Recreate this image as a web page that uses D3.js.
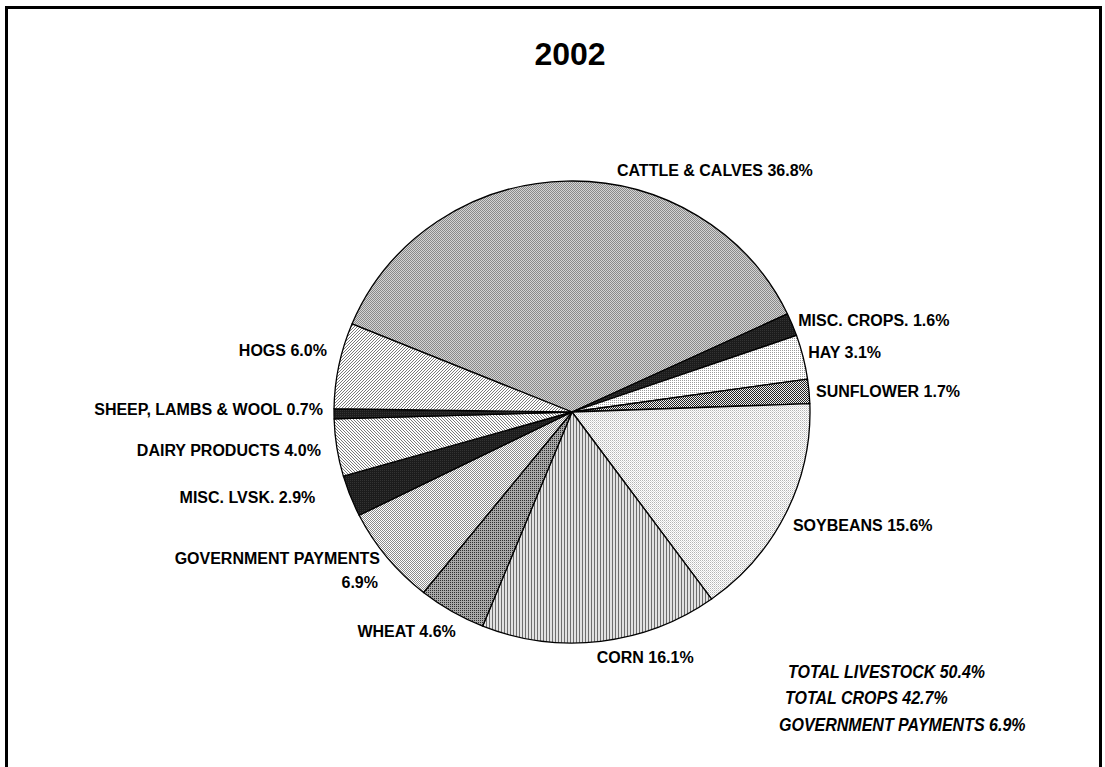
<!DOCTYPE html>
<html>
<head>
<meta charset="utf-8">
<script src="https://cdn.jsdelivr.net/npm/d3@7"></script>
<style>
  html, body { margin: 0; padding: 0; background: #fff; }
  svg { display: block; }
  text { font-family: "Liberation Sans", Arial, sans-serif; fill: #000; }
</style>
</head>
<body>
<svg id="chart" width="1105" height="767"></svg>
<script>
// ---- data ----
const title = "2002";
const categories = ["CATTLE & CALVES", "MISC. CROPS.", "HAY", "SUNFLOWER", "SOYBEANS", "CORN",
  "WHEAT", "GOVERNMENT PAYMENTS", "MISC. LVSK.", "DAIRY PRODUCTS", "SHEEP, LAMBS & WOOL", "HOGS"];
const shares = [36.8, 1.6, 3.1, 1.7, 15.6, 16.1, 4.6, 6.9, 2.9, 4.0, 0.7, 6.0];
const totalLines = ["TOTAL LIVESTOCK 50.4%", "TOTAL CROPS 42.7%", "GOVERNMENT PAYMENTS 6.9%"];

// ---- layout / style ----
const W = 1105, H = 767;
const cx = 572, cy = 412, rx = 238, ry = 231;
const startDeg = -67.6;
const fills = ["cattle", "dark", "hay", "sunflower", "soy", "corn", "wheat", "govt", "dark", "dairy", "dark", "hogs"];
// label nudges relative to the outer point of each slice's mid angle
const labelNudge = [
  {dx: 50.6, dy: -5, anchor: "start"},
  {dx: 6, dy: 1, anchor: "start"},
  {dx: 5, dy: 1, anchor: "start"},
  {dx: 7, dy: 6, anchor: "start"},
  {dx: 7, dy: 18, anchor: "start"},
  {dx: -4, dy: 22, anchor: "start"},
  {dx: 4, dy: 26, anchor: "end"},
  {dx: -7, dy: 6.5, anchor: "end", split: true},
  {dx: -35, dy: 7, anchor: "end"},
  {dx: -16, dy: 8, anchor: "end"},
  {dx: -11, dy: 1, anchor: "end"},
  {dx: -12, dy: -10, anchor: "end"}
];
const totalPos = [[788, 678], [785, 704], [779, 731]];
const totalSquash = 0.89;

const svg = d3.select("#chart");
const defs = svg.append("defs");

// pixel patterns: [width, height, background, [[x,y,w,h,color],...]]
const patternSpecs = {
  cattle:    [2, 2, "#d4d4d4", [[0,0,1,1,"#8a8a8a"],[1,1,1,1,"#8a8a8a"]]],
  dark:      [2, 2, "#1c1c1c", [[0,0,1,1,"#333"]]],
  hay:       [2, 2, "#ffffff", [[0,0,1,1,"#9a9a9a"]]],
  sunflower: [2, 2, "#f0f0f0", [[0,0,1,1,"#222"],[1,1,1,1,"#222"]]],
  soy:       [2, 2, "#ffffff", [[0,0,1,1,"#b4b4b4"],[1,1,1,1,"#d8d8d8"]]],
  corn:      [3, 1, "#e2e2e2", [[0,0,1,1,"#6e6e6e"]]],
  wheat:     [2, 2, "#a8a8a8", [[0,0,1,1,"#2e2e2e"]]],
  govt:      [2, 2, "#ffffff", [[0,0,1,1,"#8c8c8c"],[1,1,1,1,"#8c8c8c"]]],
  dairy:     [3, 3, "#ffffff", [[0,0,1,1,"#7a7a7a"],[1,1,1,1,"#7a7a7a"],[2,2,1,1,"#7a7a7a"]]],
  hogs:      [3, 3, "#ffffff", [[0,2,1,1,"#7a7a7a"],[1,1,1,1,"#7a7a7a"],[2,0,1,1,"#7a7a7a"]]]
};
Object.entries(patternSpecs).forEach(([id, [w, h, bg, px]]) => {
  const p = defs.append("pattern").attr("id", "p-" + id)
    .attr("patternUnits", "userSpaceOnUse").attr("x", 0).attr("y", 0)
    .attr("width", w).attr("height", h);
  p.append("rect").attr("width", w).attr("height", h).attr("fill", bg).attr("shape-rendering", "crispEdges");
  px.forEach(([x, y, ww, hh, c]) => p.append("rect").attr("x", x).attr("y", y)
    .attr("width", ww).attr("height", hh).attr("fill", c).attr("shape-rendering", "crispEdges"));
});

// frame
svg.append("rect").attr("x", 6.5).attr("y", 7.5).attr("width", 1094).attr("height", 800)
  .attr("fill", "none").attr("stroke", "#000").attr("stroke-width", 3);

// title
svg.append("text").attr("x", 570).attr("y", 65).attr("text-anchor", "middle")
  .attr("font-size", 32).attr("font-weight", "bold").text(title);

// pie
const toRad = d => d * Math.PI / 180;
const pie = d3.pie().sort(null).value(d => d)
  .startAngle(toRad(startDeg)).endAngle(toRad(startDeg) + 2 * Math.PI);
const arcs = pie(shares);
const pt = (a, k = 1) => [cx + rx * k * Math.sin(a), cy - ry * k * Math.cos(a)];
function slicePath(d) {
  const [x0, y0] = pt(d.startAngle), [x1, y1] = pt(d.endAngle);
  const large = (d.endAngle - d.startAngle) > Math.PI ? 1 : 0;
  return `M${cx},${cy}L${x0},${y0}A${rx},${ry} 0 ${large} 1 ${x1},${y1}Z`;
}
svg.append("g").selectAll("path").data(arcs).join("path")
  .attr("d", slicePath)
  .attr("fill", (d, i) => `url(#p-${fills[i]})`)
  .attr("stroke", "#000").attr("stroke-width", 1.3).attr("stroke-linejoin", "round");

// labels
const lg = svg.append("g").attr("font-size", 16).attr("font-weight", "bold");
arcs.forEach((d, i) => {
  const mid = (d.startAngle + d.endAngle) / 2;
  const [px, py] = pt(mid);
  const n = labelNudge[i];
  const txt = `${categories[i]} ${shares[i].toFixed(1)}%`;
  const t = lg.append("text").attr("x", px + n.dx).attr("y", py + n.dy).attr("text-anchor", n.anchor);
  if (n.split) {
    t.append("tspan").attr("x", px + n.dx).text(categories[i]);
    t.append("tspan").attr("x", px + n.dx - 2).attr("dy", 24).text(`${shares[i].toFixed(1)}%`);
  } else {
    t.text(txt);
  }
});

// totals (bold italic, slightly condensed)
svg.append("g").attr("font-size", 18).attr("font-weight", "bold").attr("font-style", "italic")
  .selectAll("text").data(totalLines).join("text")
  .attr("transform", (d, i) => `translate(${totalPos[i][0]},${totalPos[i][1]}) scale(${totalSquash},1)`)
  .text(d => d);
</script>
</body>
</html>
